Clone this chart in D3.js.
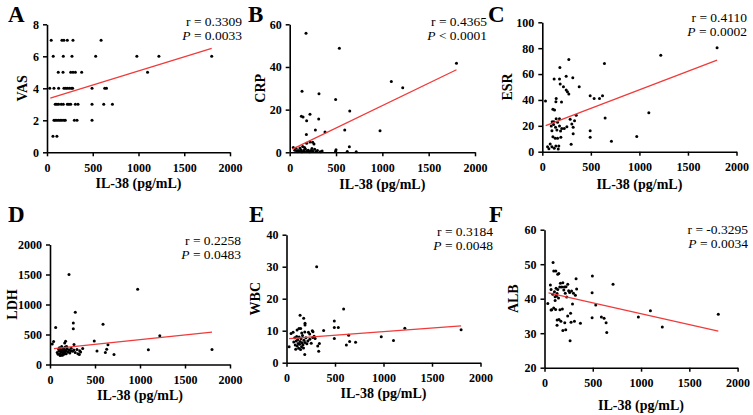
<!DOCTYPE html>
<html>
<head>
<meta charset="utf-8">
<script src="https://cdn.jsdelivr.net/npm/d3@7"></script>
<style>
  body { margin: 0; background: #fff; }
  svg text { font-family: "Liberation Serif", "Times New Roman", serif; }
</style>
</head>
<body>
<div id="chart"></div>
<script>
// IL-38 (pg/mL) vs clinical markers, one [x, y] pair per patient
const vasPoints = [
    [46,7],[163,7],[185,7],[222,7],[284,7],[591,7],
    [68,6],[178,6],[273,6],[532,6],[982,6],[1223,6],[1800,6],
    [123,5],[175,5],[259,5],[284,5],[310,5],[379,5],[1099,5],
    [30,4],[76,4],[127,4],[185,4],[204,4],[222,4],[244,4],[266,4],[280,4],[492,4],[631,4],[650,4],
    [90,3],[108,3],[127,3],[156,3],[178,3],[222,3],[240,3],[259,3],[310,3],[339,3],[492,3],[620,3],[715,3],
    [76,2],[90,2],[108,2],[127,2],[145,2],[163,2],[185,2],[200,2],[299,2],[328,2],[492,2],
    [65,1],[108,1]
];
const crpPoints = [
    [176,55.8],[536,48.8],[1097,33.2],[1220,30.2],[1800,41.8],[133,28.6],[316,27.5],[496,24.8],
    [648,19.4],[126,16.9],[144,16.6],[219,17.8],[183,14.8],[313,15.6],[277,10.5],[381,9.5],
    [594,10.5],[975,10.1],[180,8.4],[183,4.2],[248,4.7],[262,3.9],[219,4.8],[644,2.6],
    [39,2.2],[68,1.9],[140,2.7],[621,0.4],[718,0.2],[500,1.2],[495,0.5],
    [90,0.8],[105,0.5],[120,1.2],[130,0.3],[150,0.9],[160,0.4],[170,1.5],[190,0.6],[200,1.0],
    [215,0.3],[230,0.8],[250,0.5],[270,1.4],[285,0.4],[300,0.9],[330,0.3],[350,0.6],[110,2.0],
    [160,2.2],[240,1.8],[75,0.6],[55,1.0]
];
const esrPoints = [
    [33,39.1],[273,71.3],[640,68.2],[181,65.1],[122,56.1],[177,56.1],[246,58.4],[314,57.1],
    [184,52.3],[218,50.2],[380,50.2],[246,47.6],[259,46.3],[273,44.5],[493,43.2],[534,41.2],
    [589,41.2],[620,43.2],[143,41.2],[140,38.6],[198,38.4],[109,32.9],[126,32.2],[349,28.1],
    [647,26],[1097,30.1],[1220,74.5],[1800,80.3],[143,25.5],[177,25.5],[287,25],[332,23.9],
    [102,23.2],[119,23.2],[157,22.7],[92,19.8],[116,21.1],[136,18.8],[177,19.8],[201,18],
    [253,19.3],[304,21.4],[318,18.8],[99,16.2],[150,16.7],[188,16],[226,18],[493,16.2],
    [493,11.1],[109,11.6],[133,10.3],[157,10.3],[191,11.1],[318,13.9],[973,11.8],[712,8],
    [297,5.7],[81,5.9],[99,3.9],[123,2.6],[140,4.4],[170,4.4],[54,3.9],[68,2.3],[164,2.1]
];
const ldhPoints = [
    [211,1500],[974,1255],[281,870],[259,690],[259,595],[589,672],[63,617],[492,390],
    [644,330],[630,255],[1093,245],[615,200],[522,225],[711,165],[1220,480],[1800,250],
    [25,340],[40,385],[163,360],[267,335],[363,265],[326,165],[173,386],
    [80,200],[90,170],[100,230],[105,280],[110,180],[115,250],[120,210],[125,160],[130,300],
    [135,240],[140,190],[145,270],[150,220],[155,170],[160,250],[165,200],[170,290],[175,230],
    [180,180],[190,260],[200,210],[210,240],[220,190],[235,270],[250,220],[265,240],[280,200],
    [300,250],[310,180],[330,230],[340,210],[95,260],[112,150],[138,155],[185,300],[230,230]
];
const wbcPoints = [
    [311,30],[589,16.8],[140,14.8],[177,13.9],[493,13],[191,12.3],[191,11.8],[493,11],[534,11],
    [129,10.7],[146,10.7],[109,10.2],[383,10.1],[266,10],[273,9.7],[226,9.5],[239,9],[47,9.1],
    [68,9.5],[157,9.3],[188,9.6],[641,8.6],[493,7.6],[977,8.1],[1103,6.9],[1220,10.8],[1800,10.3],
    [651,6.6],[712,6.4],[617,5.5],[27,5],[339,6],[322,5.2],[332,3.6],[188,2.6],
    [75,6.5],[85,7.8],[90,5.5],[95,4.2],[100,6.8],[105,8.2],[110,5.2],[115,7.2],[120,6],[125,4.5],
    [130,8],[135,5.8],[140,6.6],[150,7.5],[155,5],[160,6.2],[165,8.5],[170,5.6],[180,7],[190,6.3],
    [200,7.8],[210,5.9],[220,6.8],[240,7.3],[255,6.1],[270,7.9],[285,8.3],[295,7.6],[145,4.1],[175,4.6]
];
const albPoints = [
    [89,50.5],[96,48],[117,48],[137,47.1],[148,47.3],[496,46.6],[327,45.8],[710,44.2],[61,44],
    [68,42.7],[493,41.7],[531,38.2],[589,34.7],[617,34.3],[493,34.5],[638,33],[645,30.2],
    [972,34.7],[1097,36.5],[1220,31.8],[1800,35.5],[372,32.9],[265,27.8],[34,38.6],
    [86,41.3],[103,42],[110,40.6],[120,43],[125,40.8],[130,41.5],[137,42.7],[145,40.2],[158,43.4],
    [165,44.5],[179,43.4],[190,44.6],[200,42.5],[206,43.4],[223,43.5],[241,44.2],[215,41.6],
    [230,40.5],[250,42.3],[260,41.8],[280,42.2],[300,41.6],[320,41],[333,42.8],[95,37.3],
    [115,36.9],[150,34],[160,36.8],[170,33.5],[185,37],[210,33],[220,31],[190,30.8],[240,35],
    [270,35.8],[290,38.5],[310,33.5],[130,32.3],[110,39.5],[75,36.8],[68,36.7],[131,33.8],[275,33.2]
];

// regression line end points
const vasFit = [[36,3.39],[1800,6.5]];
const crpFit = [[29,1.5],[1800,38.7]];
const esrFit = [[35,20.2],[1800,70.8]];
const ldhFit = [[44,266],[1800,540]];
const wbcFit = [[27,7.5],[1800,11.5]];
const albFit = [[42,41.7],[1800,30.6]];

const xTicks = [0, 500, 1000, 1500, 2000];
const vasTicks = [0, 2, 4, 6, 8];
const crpTicks = [0, 20, 40, 60];
const esrTicks = [0, 20, 40, 60, 80, 100];
const ldhTicks = [0, 500, 1000, 1500, 2000];
const wbcTicks = [0, 10, 20, 30, 40];
const albTicks = [20, 30, 40, 50, 60];

const letters = ["A", "B", "C", "D", "E", "F"];
const yNames = ["VAS", "CRP", "ESR", "LDH", "WBC", "ALB"];
const rTexts = ["r = 0.3309", "r = 0.4365", "r = 0.4110", "r = 0.2258", "r = 0.3184", "r = -0.3295"];
const pTexts = ["= 0.0033", "< 0.0001", "= 0.0002", "= 0.0483", "= 0.0048", "= 0.0034"];

const panels = [
    { pts: vasPoints, fit: vasFit, yTicks: vasTicks,
      left: 47, right: 230, top: 24.3, bottom: 152.3, yTitleX: 27, xTitleY: 188, statX: 242, statY: 26, letterX: 8, letterY: 22 },
    { pts: crpPoints, fit: crpFit, yTicks: crpTicks,
      left: 289.7, right: 475, top: 24.3, bottom: 152.3, yTitleX: 265, xTitleY: 189, statX: 487, statY: 26, letterX: 248, letterY: 22 },
    { pts: esrPoints, fit: esrFit, yTicks: esrTicks,
      left: 542.3, right: 736.5, top: 22.3, bottom: 151.7, yTitleX: 512, xTitleY: 189, statX: 747, statY: 22, letterX: 488, letterY: 22 },
    { pts: ldhPoints, fit: ldhFit, yTicks: ldhTicks,
      left: 50, right: 230, top: 244.5, bottom: 364.5, yTitleX: 17, xTitleY: 400, statX: 241, statY: 245, letterX: 8, letterY: 222 },
    { pts: wbcPoints, fit: wbcFit, yTicks: wbcTicks,
      left: 286.5, right: 480.5, top: 234.7, bottom: 362.7, yTitleX: 260, xTitleY: 398, statX: 493, statY: 236, letterX: 249, letterY: 222 },
    { pts: albPoints, fit: albFit, yTicks: albTicks,
      left: 544.5, right: 737.6, top: 229.7, bottom: 367.7, yTitleX: 518, xTitleY: 410, statX: 748, statY: 234, letterX: 489, letterY: 222 }
];

const serif = "'Liberation Serif', 'Times New Roman', serif";

const svg = d3.select("#chart").append("svg")
    .attr("width", 753)
    .attr("height", 415);

panels.forEach((p, i) => drawPanel(p, i));

function drawPanel(p, i) {
    const x = d3.scaleLinear().domain([0, 2000]).range([p.left, p.right]);
    const y = d3.scaleLinear().domain(d3.extent(p.yTicks)).range([p.bottom, p.top]);

    const g = svg.append("g");

    const xAxis = g.append("g")
        .attr("transform", `translate(0,${p.bottom})`)
        .call(d3.axisBottom(x).tickValues(xTicks).tickFormat(d3.format("d"))
            .tickSize(4).tickSizeOuter(0).tickPadding(7));
    const yAxis = g.append("g")
        .attr("transform", `translate(${p.left},0)`)
        .call(d3.axisLeft(y).tickValues(p.yTicks).tickFormat(d3.format("d"))
            .tickSize(4).tickSizeOuter(0).tickPadding(4));

    [xAxis, yAxis].forEach(a => {
        a.attr("font-family", serif);
        a.select(".domain").attr("stroke", "#000").attr("stroke-width", 1.6);
        a.selectAll(".tick line").attr("stroke", "#000").attr("stroke-width", 1.5);
        a.selectAll(".tick text")
            .attr("fill", "#000")
            .style("font-size", "12px")
            .style("font-weight", "bold")
            .style("font-family", serif);
    });

    // dots
    g.selectAll(".dot")
        .data(p.pts)
        .enter().append("circle")
        .attr("class", "dot")
        .attr("cx", d => x(d[0]))
        .attr("cy", d => y(d[1]))
        .attr("r", 1.5)
        .attr("fill", "#000");

    // fitted line
    g.append("path")
        .datum(p.fit)
        .attr("d", d3.line().x(d => x(d[0])).y(d => y(d[1])))
        .attr("fill", "none")
        .attr("stroke", "#f03a3a")
        .attr("stroke-width", 1.3);

    // axis titles
    g.append("text")
        .attr("x", (p.left + p.right) / 2)
        .attr("y", p.xTitleY)
        .attr("text-anchor", "middle")
        .style("font-size", "14px")
        .style("font-weight", "bold")
        .style("font-family", serif)
        .text("IL-38 (pg/mL)");

    g.append("text")
        .attr("transform", `translate(${p.yTitleX},${(p.top + p.bottom) / 2}) rotate(-90)`)
        .attr("text-anchor", "middle")
        .style("font-size", "14px")
        .style("font-weight", "bold")
        .style("font-family", serif)
        .text(yNames[i]);

    // r and P
    g.append("text")
        .attr("x", p.statX)
        .attr("y", p.statY)
        .attr("text-anchor", "end")
        .style("font-size", "13.5px")
        .style("font-family", serif)
        .text(rTexts[i]);

    const pt = g.append("text")
        .attr("x", p.statX)
        .attr("y", p.statY + 14)
        .attr("text-anchor", "end")
        .style("font-size", "13.5px")
        .style("font-family", serif);
    pt.append("tspan").style("font-style", "italic").text("P");
    pt.append("tspan").text(" " + pTexts[i]);

    // panel letter
    g.append("text")
        .attr("x", p.letterX)
        .attr("y", p.letterY)
        .style("font-size", "23px")
        .style("font-weight", "bold")
        .style("font-family", serif)
        .text(letters[i]);
}
</script>
</body>
</html>
